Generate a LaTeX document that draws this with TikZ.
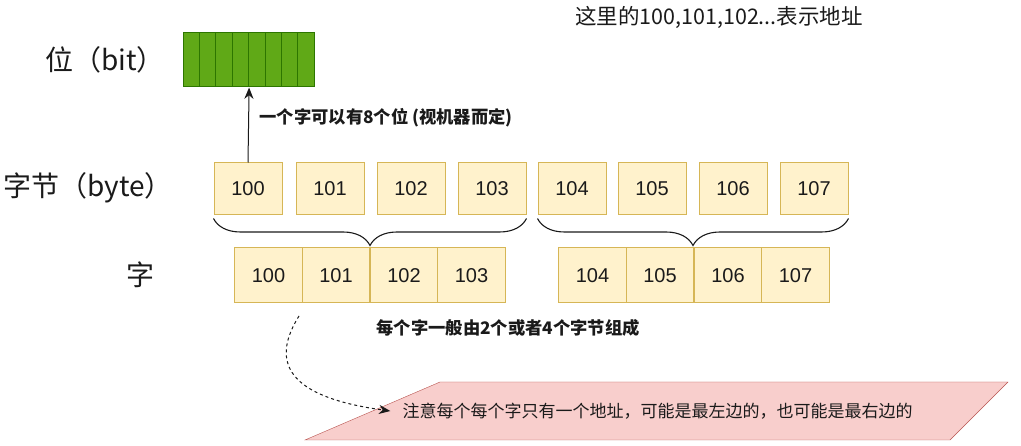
\documentclass[tikz,border=0pt]{standalone}
\usepackage{fontspec}
\setmainfont{Liberation Sans}
\newfontfamily\cjk{Noto Sans CJK SC}
\usepackage{tikz}
\usetikzlibrary{arrows.meta,positioning,decorations.pathreplacing}
\definecolor{bitgreen}{HTML}{60A917}
\definecolor{bitedge}{HTML}{2D7600}
\definecolor{cream}{HTML}{FFF2CC}
\definecolor{gold}{HTML}{D6B656}
\definecolor{rose}{HTML}{F8CECC}
\definecolor{brick}{HTML}{B85450}
\definecolor{ink}{HTML}{1A1A1A}

\begin{document}
\begin{tikzpicture}[
  x=1pt,y=-1pt,
  bitcell/.style={draw=bitedge,fill=bitgreen,minimum width=16.4pt,minimum height=54pt,
                  inner sep=0pt,line width=1pt},
  bytebox/.style={draw=gold,fill=cream,minimum width=68pt,minimum height=52pt,line width=1pt,
                  inner sep=0pt,font=\fontsize{20}{24}\selectfont,text=ink},
  wordbox/.style={draw=gold,fill=cream,minimum width=67.5pt,minimum height=55pt,line width=1pt,
                  inner sep=0pt,font=\fontsize{20}{24}\selectfont,text=ink},
  rowlabel/.style={font=\cjk\fontsize{28}{32}\selectfont,text=ink},
  note/.style={font=\cjk\bfseries\fontsize{17.3}{20}\selectfont,text=ink,anchor=west},
  grp/.style={decorate,decoration={brace,mirror,amplitude=27pt},line width=1.1pt,color=ink},
  arr/.style={-{Stealth[length=4mm,width=3.2mm]},line width=1pt,color=ink}
]
\useasboundingbox (0,0) rectangle (1021,446);

% bits
\foreach \i in {1,...,8}
  \node[bitcell] (b\i) at ({183+16.4*(\i-0.5)},60) {};

% bytes
\foreach \a [count=\i from 0] in {248,330,411,492,572,652,733,814}
  \node[bytebox] (by\i) at (\a,189) {10\i};

% words
\foreach \a [count=\i from 0] in {268.5,336,404,471.5,592.5,660,728,795.5}
  \node[wordbox] (w\i) at (\a,275.5) {10\i};

% row labels
\node[rowlabel] (lbit) at (105,60) {位（bit）};
\node[rowlabel] (lbyte) at (88,188) {字节（byte）};
\node[rowlabel] (lword) at (140,275) {字};

\node[font=\cjk\fontsize{21.5}{24}\selectfont,text=ink] (addr) at (719,17)
  {这里的100,101,102...表示地址};

% bits per word
\draw[arr] (by0.north) -- (b4.south east);
\node[note] (bitnote) at (256,118) {一个字可以有8个位 (视机器而定)};

% braces
\draw[grp] ([yshift=-3pt]by0.south west) -- ([yshift=-3pt]by3.south east);
\draw[grp] ([yshift=-3pt]by4.south west) -- ([yshift=-3pt]by7.south east);
\node[note] (wordnote) at (373,328) {每个字一般由2个或者4个字节组成};

% address note
\fill[rose,draw=brick] (305,440) -- (440,382) -- (1008,382) -- (950,440) -- cycle;
\node[font=\cjk\fontsize{17}{20}\selectfont,text=ink,inner sep=12pt] (addrnote) at (657.5,411)
  {注意每个每个字只有一个地址，可能是最左边的，也可能是最右边的};
\coordinate (tail) at (299,316);
\draw[arr,dashed]
  (tail) .. controls (262,375) and (310,400) .. (addrnote.west);
\end{tikzpicture}
\end{document}
